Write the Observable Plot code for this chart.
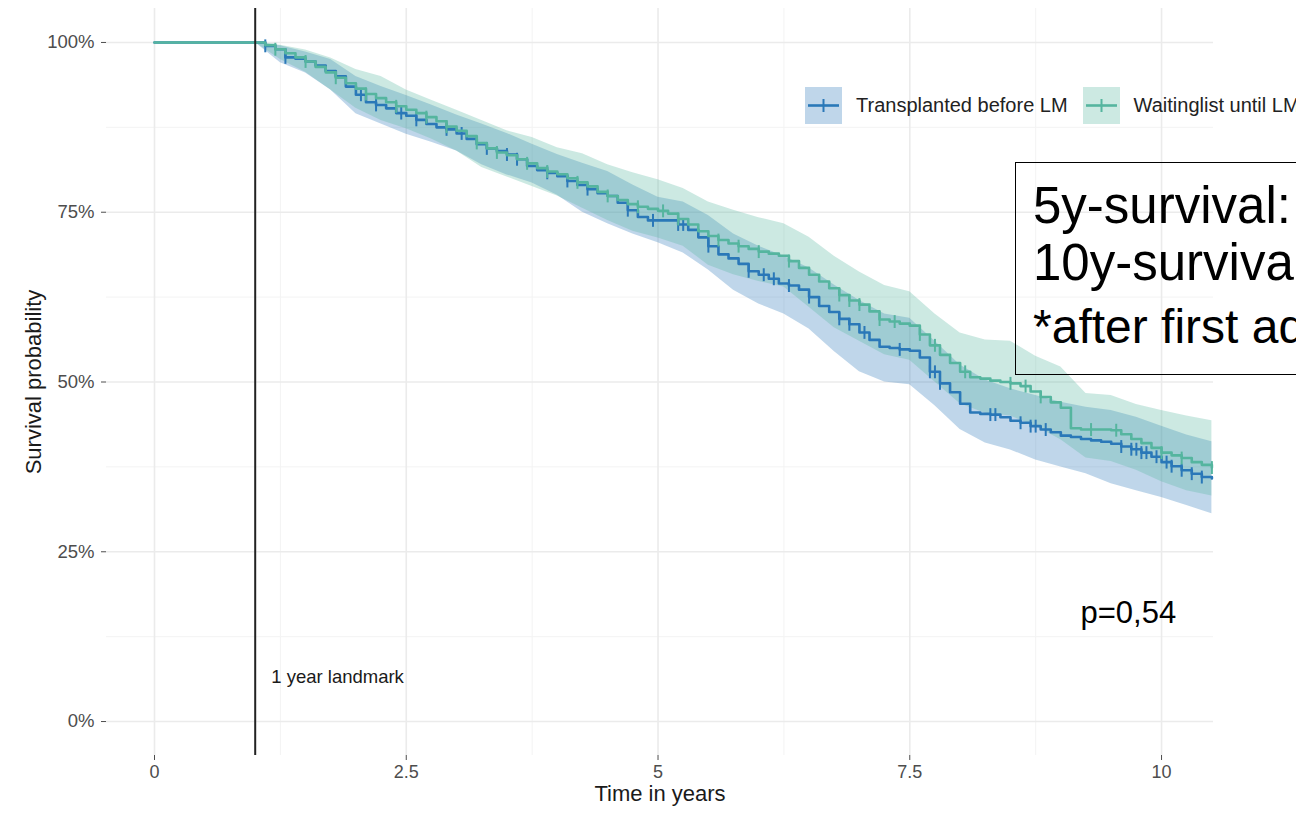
<!DOCTYPE html>
<html><head><meta charset="utf-8">
<script src="https://cdn.jsdelivr.net/npm/d3@7"></script>
<script src="https://cdn.jsdelivr.net/npm/@observablehq/plot@0.6"></script>
<style>
html,body{margin:0;padding:0;background:#fff;overflow:hidden;width:1296px;height:815px;}
#wrap{position:relative;width:1296px;height:815px;font-family:"Liberation Sans",Arial,sans-serif;overflow:hidden;}
#chart svg{display:block;}
.legend{position:absolute;top:87px;left:805px;display:flex;align-items:center;white-space:nowrap;font-size:20px;color:#222;}
.legend .key{width:37px;height:37px;position:relative;margin-right:14px;}
.legend .lab{margin-right:15px;}
.note{position:absolute;left:1015px;top:162px;width:400px;height:213px;border:1.5px solid #000;box-sizing:border-box;}
.note div{position:absolute;left:17px;white-space:nowrap;color:#000;}
</style>
</head><body>
<div id="wrap"><div id="chart"></div>
<div class="legend" id="legend"></div>
<div class="note">
  <div style="top:13px;font-size:51px;">5y-survival:</div>
  <div style="top:70px;font-size:51px;">10y-survival:</div>
  <div style="top:136px;font-size:48px;">*after first admission</div>
</div>
</div>
<script>
// ---- data ----
const seriesNames = ["Transplanted before LM", "Waitinglist until LM"];
const seriesColors = ["#2a78b8", "#55b59f"];

const timeGrid = [0,
 1.0,1.1,1.2,1.3,1.4,1.5,1.6,1.7,1.8,1.9,
 2.0,2.1,2.2,2.3,2.4,2.5,2.6,2.7,2.8,2.9,
 3.0,3.1,3.2,3.3,3.4,3.5,3.6,3.7,3.8,3.9,
 4.0,4.1,4.2,4.3,4.4,4.5,4.6,4.7,4.8,4.9,
 5.0,5.1,5.2,5.3,5.4,5.5,5.6,5.7,5.8,5.9,
 6.0,6.1,6.2,6.3,6.4,6.5,6.6,6.7,6.8,6.9,
 7.0,7.1,7.2,7.3,7.4,7.5,7.6,7.7,7.8,7.9,
 8.0,8.1,8.2,8.3,8.4,8.5,8.6,8.7,8.8,8.9,
 9.0,9.1,9.2,9.3,9.4,9.5,9.6,9.7,9.8,9.9,
 10.0,10.1,10.2,10.3,10.4,10.5];

const transplantedSurv = [100,
 100,99.5,99,97.8,97.6,97.2,96.6,95.8,95,93.5,
 92.3,91.2,90.8,90.3,89.6,89.2,88.6,88,87.5,87.2,
 86.6,85.8,85.0,84.4,84,83.5,82.8,81.8,81.2,80.8,
 80.3,79.6,79.0,78.4,77.8,77.4,76.4,75.3,74.3,73.8,
 73.8,73.8,73.2,72.4,71.3,70.0,68.8,68.2,67.4,66.3,
 65.8,65.2,64.5,64.2,63.6,62.5,61.2,60.3,59.3,58.5,
 57.3,56.2,55.2,55,54.8,54.6,53.6,51.5,49.8,48.5,
 46.8,45.5,45.3,45.2,44.8,44.3,44,43.5,43,42.6,
 42.1,41.9,41.6,41.4,41.2,40.9,40.5,40.1,39.6,39,
 38.2,37.6,37,36.5,36.0,35.8];

const waitinglistSurv = [100,
 100,99.6,99,98.4,97.8,97.2,96.4,95.6,94.8,94,
 93.2,92.4,91.8,91.2,90.6,90.1,89.6,89,88.4,87.6,
 87,86.2,85.2,84.4,83.8,83.4,82.8,82.2,81.5,81,
 80.6,80,79.4,78.8,78,77.4,76.8,76.2,75.8,75.5,
 75.2,74.8,74,73.2,72.2,71.5,70.9,70.4,70,69.6,
 69.2,68.9,68.6,67.8,66.8,65.8,64.8,63.8,62.8,62,
 61.4,60.4,59.2,58.9,58.6,58.3,57,55.4,54,52.8,
 51.5,50.7,50.5,50.2,50,49.8,49.4,48.6,47.8,47,
 46.2,43.2,43,43,43,42.9,42.3,41.6,41,40.3,
 39.6,39.2,38.8,38.2,37.8,37.4];

const bandTimes = [1.0,1.25,1.5,1.75,2.0,2.25,2.5,2.75,3.0,3.25,3.5,3.75,4.0,4.25,4.5,4.75,5.0,5.25,5.5,5.75,
 6.0,6.25,6.5,6.75,7.0,7.25,7.5,7.75,8.0,8.25,8.5,8.75,9.0,9.25,9.5,9.75,10.0,10.25,10.5];
const transplantedLower = [100,97,95.5,93,89.5,88,86.5,85.3,84,82,80.5,79.3,77.5,75,73.3,71.8,70.5,69,66.5,63.5,
 61.5,60,57.8,54.5,51.5,50,49.6,46.5,43,41,40,38.5,37.5,36.5,35,34,33,31.8,30.6];
const transplantedUpper = [100,99.5,98.6,97.5,95,93.5,92.2,90.8,89.3,88,86.6,85,83.5,82.2,81,79,77.2,76.5,74.5,71.8,
 70,68.5,66.8,64.3,62,60,59.4,56,52.5,50.3,49,48,47,46.3,45.8,44.8,43.5,42.2,41.2];
const waitinglistLower = [100,97.5,95.6,93,90.3,88.5,87.3,85.8,84,81.6,80.2,78.8,77.4,75.6,73.8,72.2,71.2,70,67.2,65.8,
 64.8,64,61,58,56,54,53.2,50,46.8,45.4,45,43.5,41.5,38.8,38.3,37,35.3,34,33.2];
const waitinglistUpper = [100,99.6,98.9,97.7,96,95,93,91.5,90,88.5,87,86,84.5,83.6,82,80.8,79.8,78.5,76.5,75.3,
 74.2,73.3,71.3,68.5,66.2,64.2,63.3,60,57.2,56.2,56,53.8,52.2,48.3,48,46.7,45.8,45,44.3];

const transplantedCensor = [1.1,1.3,2.05,2.2,2.45,2.6,2.9,3.05,3.3,3.5,3.6,3.9,4.1,4.3,4.7,4.95,5.2,5.25,5.5,5.9,
 6.05,6.15,6.3,6.5,6.8,6.9,7.05,7.4,7.7,7.75,7.8,8.3,8.35,8.6,8.7,8.75,8.85,9.6,9.7,9.75,9.8,9.85,9.95,10.05,10.1,10.2,10.3,10.4];
const waitinglistCensor = [1.2,1.5,1.8,2.1,2.4,2.7,2.9,3.2,3.4,3.7,3.9,4.2,4.5,4.8,5.05,5.2,5.6,5.8,6.0,6.3,
 6.8,6.9,7.0,7.2,7.35,7.6,7.75,8.05,8.5,8.65,8.8,9.3,9.55,10.0,10.2,10.5];

const xTicks = [0, 2.5, 5, 7.5, 10];
const xMinor = [1.25, 3.75, 6.25, 8.75];
const yTicks = [0, 25, 50, 75, 100];
const yMinor = [12.5, 37.5, 62.5, 87.5];

// ---- build tables ----
const survs = [transplantedSurv, waitinglistSurv];
const lowers = [transplantedLower, waitinglistLower];
const uppers = [transplantedUpper, waitinglistUpper];
const censors = [transplantedCensor, waitinglistCensor];

function stepAt(surv, t) { const i = d3.bisectRight(timeGrid, t) - 1; return surv[Math.max(0, i)]; }

const lineRows = survs.map(s => timeGrid.map((t, i) => ({t, s: s[i]})));
const bandRows = lowers.map((lo, k) => bandTimes.map((t, i) => ({t, lo: lo[i], hi: uppers[k][i]})));
const censRows = censors.map((c, k) => c.map(t => ({t, s: stepAt(survs[k], t)})));

const marks = [
  Plot.gridX(xMinor, {stroke: "#f3f3f3", strokeOpacity: 1, strokeWidth: 1}),
  Plot.gridY(yMinor, {stroke: "#f3f3f3", strokeOpacity: 1, strokeWidth: 1}),
  Plot.gridX(xTicks, {stroke: "#ebebeb", strokeOpacity: 1, strokeWidth: 1.6}),
  Plot.gridY(yTicks, {stroke: "#ebebeb", strokeOpacity: 1, strokeWidth: 1.6}),
];
[0, 1].forEach(k => {
  marks.push(Plot.areaY(bandRows[k], {x: "t", y1: "lo", y2: "hi", fill: seriesColors[k], fillOpacity: 0.3, curve: "linear"}));
});
[0, 1].forEach(k => {
  marks.push(Plot.line(lineRows[k], {x: "t", y: "s", stroke: seriesColors[k], strokeWidth: 2.6, curve: "step-after"}));
  marks.push(Plot.link(censRows[k], {x1: "t", x2: "t", y1: d => d.s - 0.95, y2: d => d.s + 0.95, stroke: seriesColors[k], strokeWidth: 2}));
});
marks.push(
  Plot.ruleX([1], {stroke: "#222", strokeWidth: 2}),
  Plot.axisY({ticks: yTicks, tickFormat: d => d + "%", tickSize: 5, tickPadding: 7, label: null, fontSize: 18.5}),
  Plot.axisX({ticks: xTicks, tickFormat: d => String(d), tickSize: 5, tickPadding: 5, label: null, fontSize: 18}),
  Plot.text(["Survival probability"], {frameAnchor: "left", dx: -73, rotate: -90, fontSize: 22, fill: "#1a1a1a", textAnchor: "middle"}),
  Plot.text(["Time in years"], {frameAnchor: "bottom", dy: 45, fontSize: 22, fill: "#1a1a1a"}),
  Plot.text(["1 year landmark"], {x: 1, y: 6.6, dx: 16, textAnchor: "start", fontSize: 18.5, fill: "#1a1a1a"}),
  Plot.text(["p=0,54"], {x: 9.67, y: 16, textAnchor: "middle", fontSize: 31, fill: "#000"})
);

const chart = Plot.plot({
  width: 1296, height: 815,
  marginLeft: 106, marginRight: 83, marginTop: 8, marginBottom: 60,
  x: {domain: [-0.4767, 10.516]},
  y: {domain: [-5, 105]},
  style: {fontFamily: "'Liberation Sans', Arial, sans-serif", color: "#4d4d4d", background: "#fff"},
  marks
});
document.getElementById("chart").appendChild(chart);

// legend
const lg = document.getElementById("legend");
seriesNames.forEach((name, k) => {
  const c = seriesColors[k];
  const key = document.createElement("div");
  key.className = "key";
  key.innerHTML = `<svg width="37" height="37"><rect width="37" height="37" fill="${c}" fill-opacity="0.3"/>` +
    `<line x1="3" x2="34" y1="18.5" y2="18.5" stroke="${c}" stroke-width="2.6"/>` +
    `<line x1="18.5" x2="18.5" y1="12" y2="25" stroke="${c}" stroke-width="2"/></svg>`;
  const lab = document.createElement("span");
  lab.className = "lab";
  lab.textContent = name;
  lg.appendChild(key); lg.appendChild(lab);
});
</script>
</body></html>
